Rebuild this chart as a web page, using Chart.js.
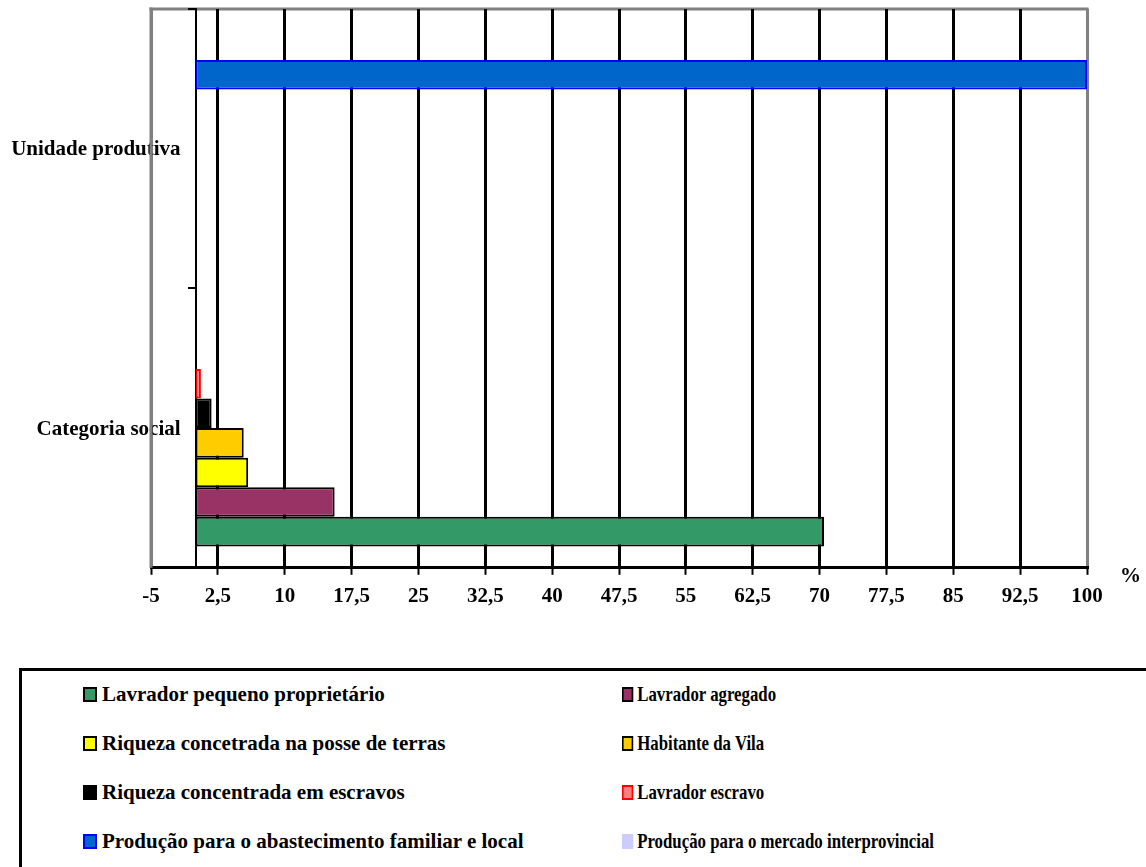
<!DOCTYPE html>
<html>
<head>
<meta charset="utf-8">
<script src="https://cdn.jsdelivr.net/npm/chart.js@4.4.1/dist/chart.umd.min.js"></script>
<style>
  html, body { margin: 0; padding: 0; background: #fff; width: 1146px; height: 867px; overflow: hidden; position: relative; font-family: "Liberation Serif", "Times New Roman", serif; }
  #wrap { position: absolute; left: 0; top: 0; width: 1146px; height: 640px; }
  #legendBox { position: absolute; left: 19px; top: 668px; width: 1200px; height: 300px; border: 3px solid #000; box-sizing: border-box; }
  .item { position: absolute; white-space: nowrap; font-weight: bold; font-size: 21px; line-height: 23px; height: 23px; transform-origin: 0 0; color: #000; }
  .item .sw { position: absolute; left: 0; top: 4px; width: 14px; height: 15px; box-sizing: border-box; }
  .item .t { position: absolute; left: 19px; top: 0; }
</style>
</head>
<body>
<div id="wrap"><canvas id="chart" width="1146" height="640"></canvas></div>
<div id="legendBox"></div>
<div id="legendItems"></div>
<script>
// Categories (top to bottom) and x-axis range
const categories = ['Unidade produtiva', 'Categoria social'];
const xMin = -5;
const xMax = 100;
const xStep = 7.5;
const axisUnit = '%';

// Series names, in legend order
const seriesNames = [
  'Lavrador pequeno proprietário',
  'Lavrador agregado',
  'Riqueza concetrada na posse de terras',
  'Habitante da Vila',
  'Riqueza concentrada em escravos',
  'Lavrador escravo',
  'Produção para o abastecimento familiar e local',
  'Produção para o mercado interprovincial'
];

// Values per category: [Unidade produtiva, Categoria social]
const lavradorPequenoProprietario = [0, 70.5];
const lavradorAgregado = [0, 15.6];
const riquezaTerras = [0, 5.9];
const habitanteVila = [0, 5.4];
const riquezaEscravos = [0, 1.8];
const lavradorEscravo = [0, 0.6];
const producaoFamiliarLocal = [100, 0];
const producaoInterprovincial = [0, 0];

const seriesValues = [
  lavradorPequenoProprietario, lavradorAgregado, riquezaTerras, habitanteVila,
  riquezaEscravos, lavradorEscravo, producaoFamiliarLocal, producaoInterprovincial
];

// Styles per series
const fillColors = ['#339966', '#993366', '#FFFF00', '#FFCC00', '#000000', '#FF8080', '#0066CC', '#CCCCFF'];
const edgeColors = ['#000000', '#000000', '#000000', '#000000', '#000000', '#FF0000', '#0000FF', '#CCCCFF'];
const edgeWidths = [2, 2, 2, 2, 2, 2, 2, 0];

const FONT = '"Liberation Serif", "Times New Roman", serif';
const FRAME_GRAY = '#808080';

// First series sits at the bottom of each category band, so feed them in reverse
const datasets = seriesNames.map((name, i) => ({
  label: name,
  data: seriesValues[i],
  backgroundColor: fillColors[i],
  borderColor: edgeColors[i],
  borderWidth: edgeWidths[i],
  borderSkipped: false,
  categoryPercentage: 0.847,
  barPercentage: 1.0
})).reverse();

const decor = {
  id: 'decor',
  beforeDraw(chart) {
    // top edge of the plot frame, under the axes
    const { ctx, chartArea: a } = chart;
    ctx.save();
    ctx.strokeStyle = FRAME_GRAY;
    ctx.lineWidth = 3;
    ctx.beginPath();
    ctx.moveTo(a.left - 1.5, a.top);
    ctx.lineTo(a.right + 1.5, a.top);
    ctx.stroke();
    ctx.restore();
  },
  afterDraw(chart) {
    const { ctx, chartArea: a, scales } = chart;
    const x0 = scales.x.getPixelForValue(0);
    ctx.save();
    // tick marks at the category band edges on the zero axis
    ctx.strokeStyle = '#000';
    ctx.lineWidth = 2;
    ctx.beginPath();
    [a.top, a.bottom].forEach((y) => {
      ctx.moveTo(x0 - 7, y);
      ctx.lineTo(x0, y);
    });
    ctx.stroke();
    ctx.fillStyle = '#000';
    ctx.font = 'bold 21px ' + FONT;
    ctx.textAlign = 'right';
    ctx.textBaseline = 'middle';
    categories.forEach((c, i) => {
      ctx.fillText(c, x0 - 15, scales.y.getPixelForValue(i) + 1);
    });
    // left frame line runs over the category labels
    ctx.strokeStyle = FRAME_GRAY;
    ctx.lineWidth = 3;
    ctx.beginPath();
    ctx.moveTo(a.left, a.top - 1.5);
    ctx.lineTo(a.left, a.bottom);
    ctx.stroke();
    // unit label at the end of the value axis
    ctx.fillStyle = '#000';
    ctx.textAlign = 'left';
    ctx.textBaseline = 'alphabetic';
    ctx.fillText(axisUnit, a.right + 33, a.bottom + 14);
    ctx.restore();
  }
};

new Chart(document.getElementById('chart'), {
  type: 'bar',
  data: { labels: categories, datasets },
  options: {
    indexAxis: 'y',
    responsive: false,
    animation: false,
    layout: { padding: { left: 151, right: 59, top: 9, bottom: 22 } },
    scales: {
      x: {
        type: 'linear',
        position: 'bottom',
        min: xMin,
        max: xMax,
        ticks: {
          stepSize: xStep,
          color: '#000',
          padding: 9,
          font: { family: FONT, size: 21, weight: 'bold' },
          callback: (v) => String(v).replace('.', ','),
          autoSkip: false,
          maxRotation: 0
        },
        grid: {
          color: (c) => (c.tick && (c.tick.value === xMin || c.tick.value === xMax)) ? FRAME_GRAY : '#000000',
          lineWidth: 3,
          tickLength: 7,
          tickColor: '#000000',
          tickWidth: 2,
          drawTicks: true
        },
        border: { color: '#000000', width: 3 }
      },
      y: {
        type: 'category',
        position: { x: 0 },
        ticks: { display: false },
        grid: {
          drawOnChartArea: false,
          drawTicks: true,
          tickLength: 7,
          color: '#000000',
          tickColor: '#000000',
          lineWidth: 2,
          offset: true
        },
        border: { color: '#000000', width: 2 }
      }
    },
    plugins: {
      legend: { display: false },
      tooltip: { enabled: false }
    }
  },
  plugins: [decor]
});

// Legend: two columns, four rows
const legendItems = document.getElementById('legendItems');
const rowTops = [683, 732, 781, 830];
const colLefts = [83, 622];
const colScale = [1, 0.8];
seriesNames.forEach((name, i) => {
  const row = Math.floor(i / 2), col = i % 2;
  const item = document.createElement('div');
  item.className = 'item';
  item.style.left = colLefts[col] + 'px';
  item.style.top = rowTops[row] + 'px';
  item.style.transform = 'scaleX(' + colScale[col] + ')';
  const sw = document.createElement('div');
  sw.className = 'sw';
  sw.style.background = fillColors[i];
  sw.style.border = edgeWidths[i] ? ('2px solid ' + edgeColors[i]) : 'none';
  const t = document.createElement('span');
  t.className = 't';
  t.textContent = name;
  item.appendChild(sw);
  item.appendChild(t);
  legendItems.appendChild(item);
});
</script>
</body>
</html>
